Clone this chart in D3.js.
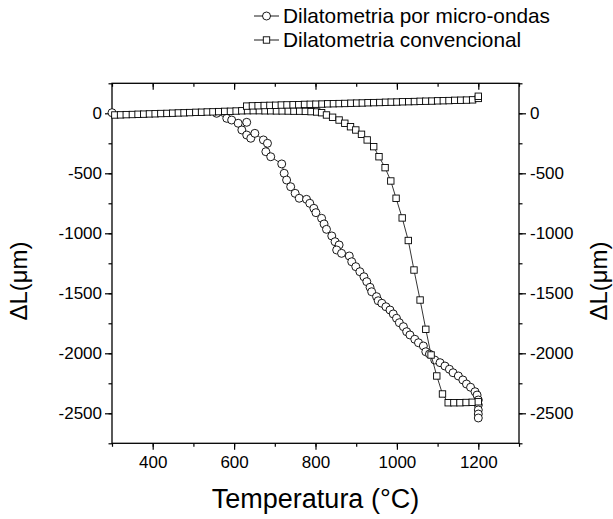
<!DOCTYPE html>
<html>
<head>
<meta charset="utf-8">
<script src="https://cdn.jsdelivr.net/npm/d3@7"></script>
<style>
  html, body { margin: 0; padding: 0; background: #fff; }
  svg { display: block; font-family: "Liberation Sans", Arial, sans-serif; }
</style>
</head>
<body>
<svg id="chart" width="613" height="519"></svg>
<script>
// Dilatometria por micro-ondas (circles): temperature (°C) and ΔL (µm)
const microTemp = [300, 557, 582, 594, 610, 631, 619, 631, 641, 651, 672, 682, 678, 690, 717, 723, 729, 739, 750, 760,
  778, 786, 796, 801, 815, 821, 827, 840, 848, 858, 852, 864, 883, 889, 899, 909, 919, 926, 934, 938,
  950, 954, 963, 973, 983, 991, 999, 1006, 1016, 1024, 1032, 1044, 1053, 1065, 1071, 1080, 1093, 1106, 1118, 1129,
  1138, 1151, 1162, 1171, 1181, 1192, 1197, 1200, 1200, 1200, 1200, 1200];
const microDL = [5, 0, -42, -56, -83, -75, -139, -181, -208, -167, -222, -250, -320, -362, -422, -500, -556, -612, -667, -708,
  -717, -750, -792, -828, -875, -922, -967, -1022, -1070, -1097, -1139, -1167, -1189, -1237, -1278, -1320, -1362, -1403, -1450, -1487,
  -1528, -1562, -1583, -1612, -1639, -1672, -1708, -1745, -1778, -1820, -1847, -1883, -1912, -1939, -1987, -2006, -2056, -2078, -2106, -2133,
  -2162, -2189, -2222, -2256, -2283, -2320, -2348, -2389, -2431, -2472, -2506, -2539];

// Dilatometria convencional (squares): main run
const convTemp = [307, 321, 335, 350, 364, 378, 392, 406, 420, 435, 449, 463, 477, 491, 506, 520, 534, 548, 562, 577,
  591, 605, 619, 633, 647, 662, 676, 690, 704, 718, 733, 747, 761, 775, 789, 803,
  815, 827, 842, 858, 872, 886, 899, 913, 927, 943, 956, 971, 985, 998, 1013, 1028, 1042, 1057, 1071, 1084, 1098, 1112,
  1126, 1140, 1155, 1170, 1185, 1200];
const convDL = [-14, -13, -11, -10, -8, -7, -5, -4, -2, -1, 1, 3, 4, 6, 8, 9, 11, 12, 14, 16,
  17, 19, 21, 22, 22, 22, 21, 21, 20, 20, 19, 18, 18, 16, 14, 11,
  5, -14, -33, -56, -83, -112, -139, -175, -222, -278, -362, -453, -564, -708, -872, -1060, -1306, -1556, -1800, -2014, -2189, -2339,
  -2412, -2412, -2412, -2410, -2408, -2404];

// Dilatometria convencional (squares): upper run
const convUpperTemp = [631, 645, 659, 674, 688, 702, 716, 730, 745, 759, 773, 787, 801, 816, 830, 844, 858, 872, 887, 901,
  915, 929, 943, 958, 972, 986, 1000, 1014, 1029, 1043, 1057, 1071, 1086, 1100, 1114, 1128, 1142, 1157, 1171, 1186, 1200, 1200];
const convUpperDL = [60, 62, 63, 65, 66, 67, 69, 70, 71, 72, 74, 75, 76, 77, 79, 80, 81, 82, 84, 85,
  86, 88, 89, 90, 92, 93, 94, 96, 97, 98, 100, 101, 102, 104, 105, 106, 108, 109, 110, 112, 124, 142];

const xTicks = [400, 600, 800, 1000, 1200];
const yTicks = [0, -500, -1000, -1500, -2000, -2500];
const seriesNames = ["Dilatometria por micro-ondas", "Dilatometria convencional"];
const xTitle = "Temperatura (°C)";
const yTitle = "ΔL(μm)";

const svg = d3.select("#chart");
const plotL = 112, plotR = 519, plotT = 83.3, plotB = 443.3;
const x = d3.scaleLinear().domain([300, 1300]).range([plotL, plotR]);
const y = d3.scaleLinear().domain([-2750, 250]).range([plotB, plotT]);

const zip = (a, b) => a.map((v, i) => [v, b[i]]);
const micro = zip(microTemp, microDL);
const conv = zip(convTemp, convDL);
const convUpper = zip(convUpperTemp, convUpperDL);

const line = d3.line().x(d => x(d[0])).y(d => y(d[1]));

// Axes (plain hyphen for negative labels)
const fmt = d => String(d);
const xMinor = d3.range(300, 1301, 100);
const yMinor = d3.range(-2750, 251, 250);
const fontTick = 17;

function styleAxis(g) {
  g.selectAll(".domain").remove();
  g.selectAll("line").attr("stroke", "#000").attr("stroke-width", 1.2);
  g.selectAll("text").attr("font-size", fontTick).attr("fill", "#000")
    .attr("font-family", "'Liberation Sans', Arial, sans-serif");
}

// bottom: outward ticks
svg.append("g").attr("transform", `translate(0,${plotB})`)
  .call(d3.axisBottom(x).tickValues(xMinor).tickSize(3.5).tickFormat(""))
  .call(styleAxis);
svg.append("g").attr("transform", `translate(0,${plotB})`)
  .call(d3.axisBottom(x).tickValues(xTicks).tickSize(6.5).tickPadding(6).tickFormat(fmt))
  .call(styleAxis);
// top: inward ticks
svg.append("g").attr("transform", `translate(0,${plotT})`)
  .call(d3.axisBottom(x).tickValues(xMinor).tickSize(3.5).tickFormat(""))
  .call(styleAxis);
svg.append("g").attr("transform", `translate(0,${plotT})`)
  .call(d3.axisBottom(x).tickValues(xTicks).tickSize(6.5).tickFormat(""))
  .call(styleAxis);
// left
svg.append("g").attr("transform", `translate(${plotL},0)`)
  .call(d3.axisLeft(y).tickValues(yMinor).tickSize(3.5).tickFormat(""))
  .call(styleAxis);
svg.append("g").attr("transform", `translate(${plotL},0)`)
  .call(d3.axisLeft(y).tickValues(yTicks).tickSize(7).tickPadding(3).tickFormat(fmt))
  .call(styleAxis);
// right
svg.append("g").attr("transform", `translate(${plotR},0)`)
  .call(d3.axisRight(y).tickValues(yMinor).tickSize(3.5).tickFormat(""))
  .call(styleAxis);
svg.append("g").attr("transform", `translate(${plotR},0)`)
  .call(d3.axisRight(y).tickValues(yTicks).tickSize(7).tickPadding(4).tickFormat(fmt))
  .call(styleAxis);

// frame
svg.append("rect").attr("x", plotL).attr("y", plotT).attr("width", plotR - plotL).attr("height", plotB - plotT)
  .attr("fill", "none").attr("stroke", "#000").attr("stroke-width", 1.3);

// Micro-ondas series
svg.append("path").datum(micro).attr("d", line)
  .attr("fill", "none").attr("stroke", "#000").attr("stroke-width", 0.8);
svg.append("g").selectAll("circle").data(micro).join("circle")
  .attr("cx", d => x(d[0])).attr("cy", d => y(d[1])).attr("r", 4)
  .attr("fill", "#fff").attr("stroke", "#000").attr("stroke-width", 0.9);

// Convencional series
[conv, convUpper].forEach(run => {
  svg.append("path").datum(run).attr("d", line)
    .attr("fill", "none").attr("stroke", "#000").attr("stroke-width", 0.8);
  svg.append("g").selectAll("rect").data(run).join("rect")
    .attr("x", d => x(d[0]) - 3.2).attr("y", d => y(d[1]) - 3.2)
    .attr("width", 6.4).attr("height", 6.4)
    .attr("fill", "#fff").attr("stroke", "#000").attr("stroke-width", 0.9);
});

// Axis titles
svg.append("text").attr("x", (plotL + plotR) / 2).attr("y", 508).attr("text-anchor", "middle")
  .attr("font-size", 27).text(xTitle);
svg.append("text").attr("transform", `translate(27,281) rotate(-90)`).attr("text-anchor", "middle")
  .attr("font-size", 24).text(yTitle);
svg.append("text").attr("transform", `translate(607,281) rotate(-90)`).attr("text-anchor", "middle")
  .attr("font-size", 24).text(yTitle);

// Legend
const legend = svg.append("g");
const legY = [16, 40];
seriesNames.forEach((name, i) => {
  const cy = legY[i];
  legend.append("line").attr("x1", 254).attr("x2", 279).attr("y1", cy).attr("y2", cy)
    .attr("stroke", "#000").attr("stroke-width", 0.9);
  if (i === 0) {
    legend.append("circle").attr("cx", 266.5).attr("cy", cy).attr("r", 4)
      .attr("fill", "#fff").attr("stroke", "#000").attr("stroke-width", 0.9);
  } else {
    legend.append("rect").attr("x", 263.3).attr("y", cy - 3.2).attr("width", 6.4).attr("height", 6.4)
      .attr("fill", "#fff").attr("stroke", "#000").attr("stroke-width", 0.9);
  }
  legend.append("text").attr("x", 283).attr("y", cy + 7).attr("font-size", 20.8).text(name);
});
</script>
</body>
</html>
